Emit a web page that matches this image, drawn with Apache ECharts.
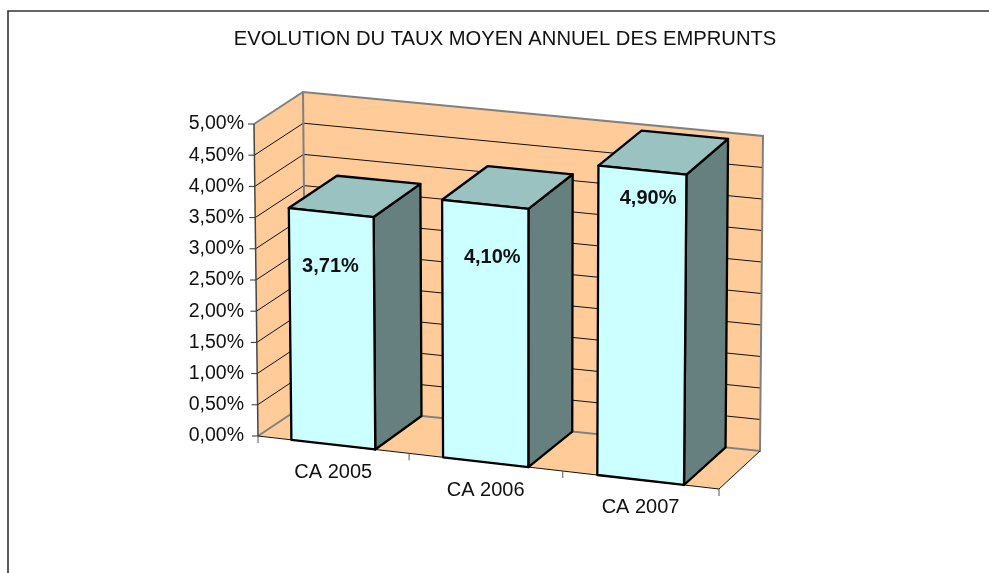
<!DOCTYPE html>
<html>
<head>
<meta charset="utf-8">
<style>
html, body { margin: 0; padding: 0; background: #fff; }
#chart { width: 989px; height: 573px; }
</style>
<script src="https://cdn.jsdelivr.net/npm/echarts@6/dist/echarts.min.js"></script>
</head>
<body>
<div id="chart"></div>
<script>
var categories = ['CA 2005', 'CA 2006', 'CA 2007'];
var taux = [3.71, 4.10, 4.90];
var tauxLabels = ['3,71%', '4,10%', '4,90%'];
var ticks = [0, 0.5, 1, 1.5, 2, 2.5, 3, 3.5, 4, 4.5, 5];

var FONT = '"Liberation Sans", Arial, sans-serif';

// the hidden grid is the front face of the 3D box, the corners below skew it
var gridLeft = 258, gridTop = 124, gridW = 461, gridH = 312;
var corners = {
	frontBL: [258, 436], frontTL: [254, 124], frontBR: [719, 489], frontTR: [722, 172],
	backBL: [306, 404], backTL: [303, 92], backBR: [760, 451], backTR: [763, 136]
};
var barRatio = 0.555;    // bar width inside its category
var warp = 0.025;        // small perspective on the x direction
var labelShift = [[-1, 19], [7, 15], [6, -18]];   // the labels were moved by hand in the original

function mix(a, b, t) {
	return [a[0] + (b[0] - a[0]) * t, a[1] + (b[1] - a[1]) * t];
}

// pt = [cat position, value] -> pixel; depth 0 front, 1 back
function project(api, pt, depth) {
	var c = api.coord(pt);
	var u = (c[0] - gridLeft) / gridW;
	var v = (gridTop + gridH - c[1]) / gridH;
	u = u * (1 - warp * (1 - u));
	var front = mix(mix(corners.frontBL, corners.frontBR, u), mix(corners.frontTL, corners.frontTR, u), v);
	var back = mix(mix(corners.backBL, corners.backBR, u), mix(corners.backTL, corners.backTR, u), v);
	return mix(front, back, depth);
}

function poly(points, fill, stroke, width) {
	return {
		type: 'polygon',
		shape: { points: points },
		style: { fill: fill, stroke: stroke || 'none', lineWidth: width || 0, lineJoin: 'round' }
	};
}

function line(a, b, color, width) {
	return {
		type: 'line',
		shape: { x1: a[0], y1: a[1], x2: b[0], y2: b[1] },
		style: { stroke: color, lineWidth: width }
	};
}

var n = categories.length;
var maxVal = ticks[ticks.length - 1];

function renderBox(params, api) {
	var kids = [];
	var P = function (x, y, d) { return project(api, [x, y], d); };
	// walls and floor
	kids.push(poly([P(0, 0, 0), P(0, maxVal, 0), P(0, maxVal, 1), P(0, 0, 1)], '#ffcc99'));
	kids.push(poly([P(0, 0, 1), P(0, maxVal, 1), P(n, maxVal, 1), P(n, 0, 1)], '#ffcc99'));
	kids.push(poly([P(0, 0, 0), P(0, 0, 1), P(n, 0, 1), P(n, 0, 0)], '#ffcc99'));
	// gridlines
	ticks.forEach(function (t) {
		if (t > 0 && t < maxVal) {
			kids.push(line(P(0, t, 0), P(0, t, 1), '#111', 1));
			kids.push(line(P(0, t, 1), P(n, t, 1), '#111', 1));
		}
	});
	// grey box edges
	kids.push({
		type: 'polyline',
		shape: { points: [P(0, maxVal, 0), P(0, maxVal, 1), P(n, maxVal, 1), P(n, 0, 1), P(0, 0, 1), P(0, 0, 0)] },
		style: { fill: 'none', stroke: '#808080', lineWidth: 2 }
	});
	kids.push(line(P(0, 0, 1), P(0, maxVal, 1), '#808080', 2));
	// axis lines and ticks
	kids.push(line(P(0, 0, 0), P(0, maxVal, 0), '#444', 1.5));
	kids.push(line(P(0, 0, 0), P(n, 0, 0), '#111', 1));
	kids.push(line(P(n, 0, 0), P(n, 0, 1), '#111', 1));
	ticks.forEach(function (t) {
		var a = P(0, t, 0);
		kids.push(line([a[0] - 6, a[1]], a, '#333', 1));
	});
	for (var i = 0; i <= n; i++) {
		var b = P(i, 0, 0);
		kids.push(line(b, [b[0], b[1] + 7], '#555', 1));
	}
	// category labels hang under the sloped front edge
	categories.forEach(function (name, k) {
		var q = P(k + 0.5, 0, 0);
		kids.push({
			type: 'text',
			style: { text: name, x: q[0], y: q[1] + 28, align: 'center', verticalAlign: 'middle', font: '20px ' + FONT, fill: '#111' }
		});
	});
	return { type: 'group', children: kids };
}

function renderBar(params, api) {
	var cat = api.value(0), val = api.value(1);
	var x0 = cat + 0.5 - barRatio / 2, x1 = cat + 0.5 + barRatio / 2;
	var P = function (x, y, d) { return project(api, [x, y], d); };
	var mid = P(cat + 0.5, val * 0.85, 0);
	var shift = labelShift[params.dataIndex];
	return {
		type: 'group',
		children: [
			poly([P(x1, 0, 0), P(x1, val, 0), P(x1, val, 1), P(x1, 0, 1)], '#668080', '#000', 2.3),
			poly([P(x0, val, 0), P(x0, val, 1), P(x1, val, 1), P(x1, val, 0)], '#99c2c0', '#000', 2.3),
			poly([P(x0, 0, 0), P(x0, val, 0), P(x1, val, 0), P(x1, 0, 0)], '#ccffff', '#000', 2.3),
			{
				type: 'text',
				style: { text: tauxLabels[params.dataIndex], x: mid[0] + shift[0], y: mid[1] + shift[1], align: 'center', verticalAlign: 'middle', font: 'bold 20px ' + FONT, fill: '#111' }
			}
		]
	};
}

var chart = echarts.init(document.getElementById('chart'), null, { renderer: 'canvas' });

chart.setOption({
	animation: false,
	backgroundColor: '#fff',
	title: {
		text: 'EVOLUTION DU TAUX MOYEN ANNUEL DES EMPRUNTS',
		left: 500, top: 24, textAlign: 'center',
		textStyle: { fontFamily: FONT, fontWeight: 'normal', fontSize: 20.2, color: '#111' }
	},
	grid: { left: gridLeft, top: gridTop, width: gridW, height: gridH },
	xAxis: {
		type: 'value', min: 0, max: n, show: false
	},
	yAxis: {
		type: 'value', min: 0, max: maxVal, interval: 0.5,
		axisLine: { show: false },
		axisTick: { show: false },
		splitLine: { show: false },
		axisLabel: {
			margin: 14,
			fontFamily: FONT, fontSize: 19.5, color: '#111',
			formatter: function (v) { return v.toFixed(2).replace('.', ',') + '%'; }
		}
	},
	graphic: [{
		type: 'polyline',
		shape: { points: [[8, 573], [8, 11], [989, 11]] },
		style: { fill: 'none', stroke: '#333', lineWidth: 1.6 },
		silent: true
	}],
	series: [
		{ type: 'custom', renderItem: renderBox, data: [[0, 0]], silent: true, clip: false },
		{
			type: 'custom',
			renderItem: renderBar,
			clip: false,
			data: taux.map(function (v, i) { return [i, v]; })
		}
	]
});
</script>
</body>
</html>
